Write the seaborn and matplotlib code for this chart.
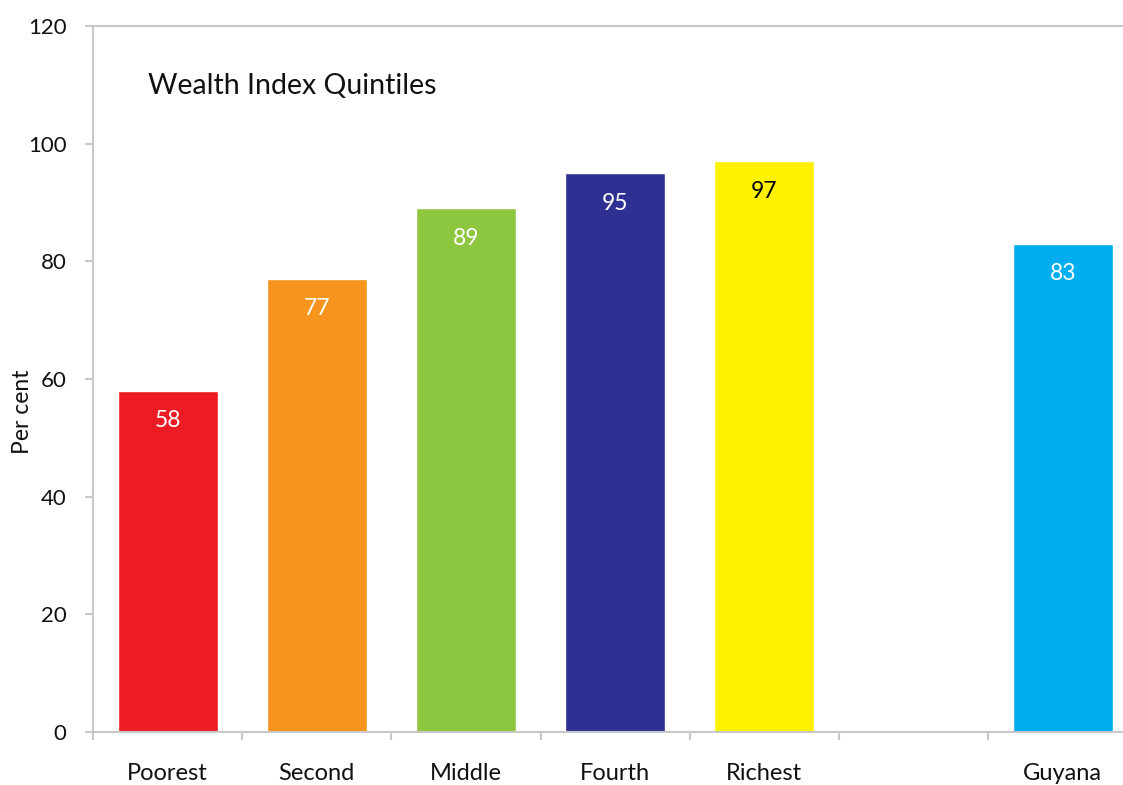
import matplotlib
matplotlib.use("Agg")
import matplotlib.pyplot as plt
import seaborn as sns
import pandas as pd
import numpy as np

# Share of population (per cent) by wealth index quintile, plus national figure
categories = ["Poorest", "Second", "Middle", "Fourth", "Richest", "Guyana"]
values = [58, 77, 89, 95, 97, 83]
slot_order = ["Poorest", "Second", "Middle", "Fourth", "Richest", "", "Guyana"]
bar_colors = ["#ED1C24", "#F7941D", "#8DC63F", "#2E3192", "#FFF200", "#00AEEF"]
label_colors = ["white", "white", "white", "white", "black", "white"]
y_ticks = [0, 20, 40, 60, 80, 100, 120]

sns.set_theme(style="white")
plt.rcParams["font.family"] = ["Lato", "DejaVu Sans"]

df = pd.DataFrame({"category": categories, "value": values})

W, H = 1123, 785
fig = plt.figure(figsize=(W / 100, H / 100), dpi=100)
ax_w = W - 93
ax = fig.add_axes([93 / W, 53 / H, ax_w / W, (732 - 26) / H])

sns.barplot(
    data=df, x="category", y="value", hue="category",
    order=slot_order, hue_order=categories,
    palette=dict(zip(categories, bar_colors)),
    width=0.67, legend=False, saturation=1, ax=ax,
)

# value labels inside the top of each bar
for cat, val, col in zip(categories, values, label_colors):
    xpos = slot_order.index(cat)
    ax.annotate(str(val), (xpos, val), xytext=(0, -30), textcoords="offset pixels",
                ha="center", va="center", fontsize=16.5, color=col)

ax.set_ylim(0, 120)
ax.set_xlim(-0.5, -0.5 + ax_w / 149.2)
ax.set_yticks(y_ticks)
ax.set_yticklabels([str(t) for t in y_ticks])

# category labels at slot centres, tick marks at slot boundaries
ax.set_xticks(range(len(slot_order)))
ax.set_xticklabels(slot_order)
ax.set_xticks(np.arange(-0.5, len(slot_order) - 1, 1.0), minor=True)
ax.tick_params(axis="x", which="major", length=0, pad=22, labelsize=17, labelcolor="#111111")
ax.tick_params(axis="x", which="minor", length=6, width=1.5, color="#c8c8c8", bottom=True)
ax.tick_params(axis="y", which="major", length=6, width=1.5, color="#c8c8c8", left=True,
               pad=13, labelsize=16, labelcolor="#111111")

ax.set_xlabel("")
ax.set_ylabel("Per cent", fontsize=16.5, color="#111111")
ax.yaxis.set_label_coords((33 - 93) / ax_w, 0.453)

for side in ["left", "bottom", "top"]:
    ax.spines[side].set_color("#c8c8c8")
    ax.spines[side].set_linewidth(1.5)
    ax.spines[side].set_visible(True)
ax.spines["right"].set_visible(False)

ax.text(148 / W, 1 - 86 / H, "Wealth Index Quintiles", transform=fig.transFigure,
        fontsize=20.5, color="#111111", ha="left", va="center")

fig.savefig("out.png", dpi=100)
